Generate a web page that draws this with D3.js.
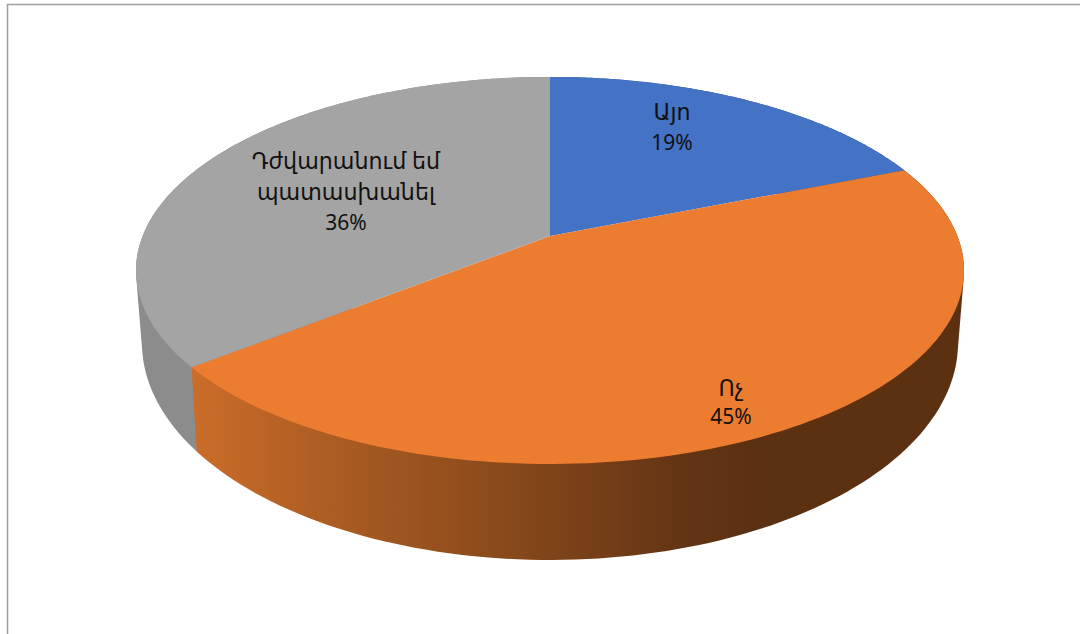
<!DOCTYPE html>
<html><head><meta charset="utf-8">
<script src="https://cdn.jsdelivr.net/npm/d3@7"></script>
<style>html,body{margin:0;background:#fff}svg{display:block}text{font-family:"Noto Sans","DejaVu Sans",sans-serif;fill:#111}</style>
</head><body><svg id="c" width="1080" height="634"></svg>
<script>
const categories = ["Այո", "Ոչ", "Դժվարանում եմ պատասխանել"];
const values = [18.9, 45.4, 35.7];
const colors = ["#4472C4", "#EC7C30", "#A4A4A4"];
const labelLines = [["Այո", "19%"], ["Ոչ", "45%"], ["Դժվարանում եմ", "պատասխանել", "36%"]];

(function () {
const W = 1080, H = 634;
const svg = d3.select("#c");
svg.append("path").attr("d", `M7.5 ${H}V4.5H${W}`).attr("fill", "none").attr("stroke", "#a0a0a0").attr("stroke-width", 1.5);

// Perspective projection of the unit disc: hub (550,236), back rim y=77, front rim y=464, half width 414
const cx = 550, cy = 236, k = 0.178, ay = 187.4, bx = 407.4;
function upper([u, v]) { const d = 1 - k * v; return [cx + bx * u / d, cy + ay * v / d]; }
// lower rim: rim ellipse (centre y 270.5, 414 x 193.5) mapped to the ellipse centred y 343, 408 x 217
function lower(p) { const [x, y] = upper(p); return [cx + (x - cx) * 408 / 414, 343 + (y - 270.5) * 217 / 193.5]; }
const rim = a => [Math.sin(a), -Math.cos(a)];
const arcPts = (a0, a1) => d3.range(0, 121).map(i => rim(a0 + (a1 - a0) * i / 120));

const pie = d3.pie().sort(null).value(d => d);
const arcs = pie(values);
const line = d3.line();

const defs = svg.append("defs");
const grad = defs.append("linearGradient").attr("id", "wallO").attr("gradientUnits", "userSpaceOnUse")
  .attr("x1", 190).attr("x2", 960).attr("y1", 0).attr("y2", 0);
[[0, "#CB6D29"], [0.2, "#A95B22"], [0.42, "#87481B"], [0.62, "#663615"], [0.72, "#5C3112"], [1, "#5C3112"]]
  .forEach(([o, c]) => grad.append("stop").attr("offset", o).attr("stop-color", c));
const wallFill = ["#2F4F89", "url(#wallO)", "#8C8C8C"];

// walls: hull of each slice's two rims, so the silhouette joins the rims; orange goes last, over the seam
svg.append("g").selectAll("path").data([arcs[0], arcs[2], arcs[1]]).join("path")
  .attr("d", d => {
    const pts = arcPts(d.startAngle, d.endAngle);
    return line(d3.polygonHull(pts.map(upper).concat(pts.map(lower)))) + "Z";
  })
  .attr("fill", d => wallFill[d.index]);

// top faces
svg.append("g").selectAll("path").data(arcs).join("path")
  .attr("d", d => line([[cx, cy]].concat(arcPts(d.startAngle, d.endAngle).map(upper))) + "Z")
  .attr("fill", (d, i) => colors[i]);

// labels
const labelAnchors = [[672, 112, 31], [731, 388, 29], [346, 161, 31]];
const textG = svg.append("g").attr("text-anchor", "middle");
labelLines.forEach((ls, i) => {
  const [x, y, lh] = labelAnchors[i];
  ls.forEach((t, j) => textG.append("text").attr("x", x).attr("y", y + j * lh)
    .attr("dy", "0.35em").attr("font-size", t.endsWith("%") ? 21 : 22.2).text(t));
});
})();
</script></body></html>
